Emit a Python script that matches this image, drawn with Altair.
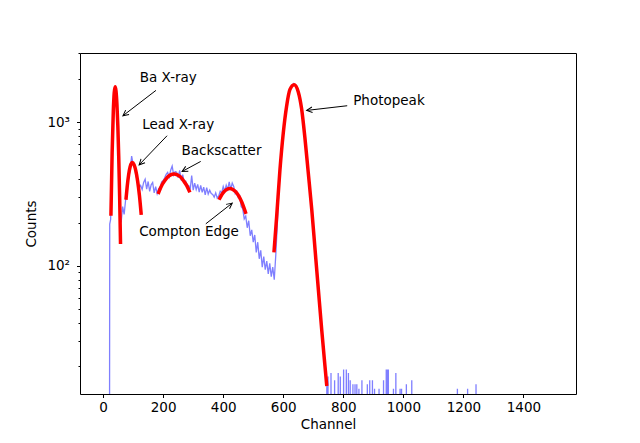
import math

import altair as alt
import pandas as pd

spectrum_channels = [0, 21, 22] + list(range(25, 750, 5))
spectrum_counts = [
    0, 0, 195,
    210, 560, 1250, 1720, 1350, 700, 260, 200, 258, 228,
    288, 322, 410, 462, 580, 505, 482, 415, 402, 348,
    362, 340, 380, 400, 342, 386, 330, 366, 380, 322,
    356, 318, 344, 350, 384, 392, 410, 432, 446, 414,
    462, 494, 428, 452, 448, 410, 462, 392, 430, 384,
    388, 364, 362, 340, 424, 336, 376, 340, 368, 326,
    362, 324, 352, 312, 350, 316, 336, 318, 314, 300,
    322, 296, 306, 330, 322, 356, 330, 364, 340, 384,
    340, 376, 356, 318, 330, 300, 306, 258, 250, 212,
    222, 184, 206, 162, 178, 146, 164, 124, 146, 112,
    128, 98, 116, 94, 108, 88, 104, 84, 98, 80,
    118, 190, 330, 460, 610, 830, 1020, 1240, 1450, 1620,
    1740, 1800, 1850, 1800, 1720, 1600, 1420, 1240, 1020, 820,
    650, 520, 400, 310, 240, 180, 135, 100, 75, 56,
    44, 32, 25, 19, 15,
]

# isolated counts above the photopeak (all other channels are empty)
tail_channels = [747, 749, 759, 771, 783, 790, 801, 810, 817, 823, 832, 839,
                 845, 852, 862, 880, 888, 897, 904, 919, 934, 943, 946, 950,
                 967, 975, 989, 994, 1010, 1028, 1180, 1214, 1242]
tail_counts = [16, 17, 18, 16, 18, 17, 19, 19, 18, 16, 15, 15,
               15, 14, 16, 15, 16, 16, 14, 14, 16, 19, 19, 19,
               14, 18, 14, 14, 15, 16, 14, 14, 15]

# fitted peaks
ba_channels = [26, 30, 34, 37, 40, 43, 46, 49, 52, 55, 58]
ba_fit = [223, 610, 1200, 1600, 1760, 1640, 1330, 940, 575, 306, 142]
lead_channels = [76, 80, 85, 90, 97, 103, 109, 115, 121, 127]
lead_fit = [288, 353, 430, 489, 523, 506, 457, 388, 308, 226]
back_channels = [183, 194, 205, 215, 225, 236, 247, 258, 268, 279, 289]
back_fit = [316, 358, 390, 414, 429, 435, 429, 414, 390, 360, 324]
compton_channels = [386, 395, 404, 413, 422, 432, 442, 452, 462, 470, 476]
compton_fit = [288, 312, 330, 341, 345, 340, 327, 305, 277, 250, 230]
photo_channels = [569, 578, 589, 600, 611, 622, 636, 650, 661, 672, 683,
                  695, 706, 717, 728, 739, 745]
photo_fit = [124, 220, 466, 838, 1284, 1679, 1818, 1620, 1240, 780, 450,
             245, 129, 68, 36, 20, 14.6]

# annotations: label position, arrow tail and arrow tip (data coords)
labels = ["Ba X-ray", "Lead X-ray", "Backscatter", "Compton Edge", "Photopeak"]
label_x = [122, 130, 261, 120, 833]
label_y = [1890, 894, 589, 162, 1313]
tail_x = [176, 213, 325, 342, 813]
tail_y = [1660, 803, 532, 196, 1298]
tip_x = [66, 120, 263, 430, 678]
tip_y = [1106, 504, 453, 273, 1204]

XMIN, XMAX = -77, 1575
YMIN, YMAX = 12.85, 3020
W, H = 496, 341
FONT = "DejaVu Sans"

rows = list(zip(spectrum_channels, spectrum_counts))
for c, v in zip(tail_channels, tail_counts):
    rows += [(c - 1, 0), (c, v), (c + 1, 0)]
spectrum = pd.DataFrame(rows, columns=["channel", "counts"])

fits = []
for name, chs, vals in [("ba", ba_channels, ba_fit),
                        ("lead", lead_channels, lead_fit),
                        ("back", back_channels, back_fit),
                        ("compton", compton_channels, compton_fit),
                        ("photo", photo_channels, photo_fit)]:
    fits += [(name, c, v) for c, v in zip(chs, vals)]
fits = pd.DataFrame(fits, columns=["peak", "channel", "counts"])


def to_px(ch, cnt):
    px = (ch - XMIN) / (XMAX - XMIN) * W
    py = H - (math.log10(cnt) - math.log10(YMIN)) / (
        math.log10(YMAX) - math.log10(YMIN)) * H
    return px, py


angles = []
for tx, ty, hx, hy in zip(tail_x, tail_y, tip_x, tip_y):
    x0, y0 = to_px(tx, ty)
    x1, y1 = to_px(hx, hy)
    angles.append(math.degrees(math.atan2(y1 - y0, x1 - x0)) % 360)

notes = pd.DataFrame({
    "label": labels, "lx": label_x, "ly": label_y,
    "tx": tail_x, "ty": tail_y, "hx": tip_x, "hy": tip_y, "angle": angles,
})

xscale = alt.Scale(domain=[XMIN, XMAX], nice=False, zero=False)
yscale = alt.Scale(type="log", domain=[YMIN, YMAX], nice=False)

x_axis = alt.Axis(values=[0, 200, 400, 600, 800, 1000, 1200, 1400],
                  format="d", title="Channel", grid=False, domain=False,
                  tickColor="black", tickSize=3.5, labelPadding=3,
                  labelFontSize=13.5, titleFontSize=13.5, labelFont=FONT,
                  titleFont=FONT, labelColor="black", titleColor="black",
                  titleFontWeight="normal", titlePadding=3)
y_ticks = [20, 30, 40, 50, 60, 70, 80, 90, 100, 200, 300, 400, 500, 600,
           700, 800, 900, 1000, 2000, 3000]
y_axis = alt.Axis(values=y_ticks, title="Counts", grid=False, domain=False,
                  tickColor="black",
                  tickSize=alt.condition("datum.value == 100 || datum.value == 1000",
                                         alt.value(3.5), alt.value(2)),
                  labelExpr="datum.value == 100 ? '10²' : datum.value == 1000 ? '10³' : ''",
                  labelPadding=7, labelFontSize=13.5, titleFontSize=13.5,
                  labelFont=FONT, titleFont=FONT, labelColor="black",
                  titleColor="black", titleFontWeight="normal", titlePadding=8)

spec_line = alt.Chart(spectrum).mark_line(
    color="blue", opacity=0.5, strokeWidth=1.3, clip=True
).transform_calculate(
    shown="max(datum.counts, 1)"
).encode(
    x=alt.X("channel:Q", scale=xscale, axis=x_axis),
    y=alt.Y("shown:Q", scale=yscale, axis=y_axis),
    order="channel:Q",
)

fit_lines = alt.Chart(fits).mark_line(
    color="red", strokeWidth=3.5, interpolate="monotone", clip=True
).encode(
    x=alt.X("channel:Q", scale=xscale),
    y=alt.Y("counts:Q", scale=yscale),
    detail="peak:N",
)

arrow_lines = alt.Chart(notes).mark_rule(color="black", strokeWidth=1).encode(
    x=alt.X("tx:Q", scale=xscale), y=alt.Y("ty:Q", scale=yscale),
    x2="hx:Q", y2="hy:Q",
)

arrow_heads = alt.Chart(notes).mark_point(
    shape="M-1,-0.5L0,0L-1,0.5", filled=False, color="black",
    strokeWidth=1, size=125, opacity=1,
).encode(
    x=alt.X("hx:Q", scale=xscale), y=alt.Y("hy:Q", scale=yscale),
    angle=alt.Angle("angle:Q", scale=None),
)

texts = alt.Chart(notes).mark_text(
    align="left", baseline="alphabetic", font=FONT, fontSize=13.5, color="black"
).encode(
    x=alt.X("lx:Q", scale=xscale), y=alt.Y("ly:Q", scale=yscale),
    text="label:N",
)

chart = alt.layer(spec_line, fit_lines, arrow_lines, arrow_heads, texts).properties(
    width=W, height=H,
    autosize=alt.AutoSizeParams(type="none"),
    padding={"left": 72, "top": 45, "right": 56, "bottom": 41},
).configure(
    background="white"
).configure_view(
    stroke="black", strokeWidth=1
)

chart.save("out.html", embed_options={"renderer": "svg", "actions": False})
